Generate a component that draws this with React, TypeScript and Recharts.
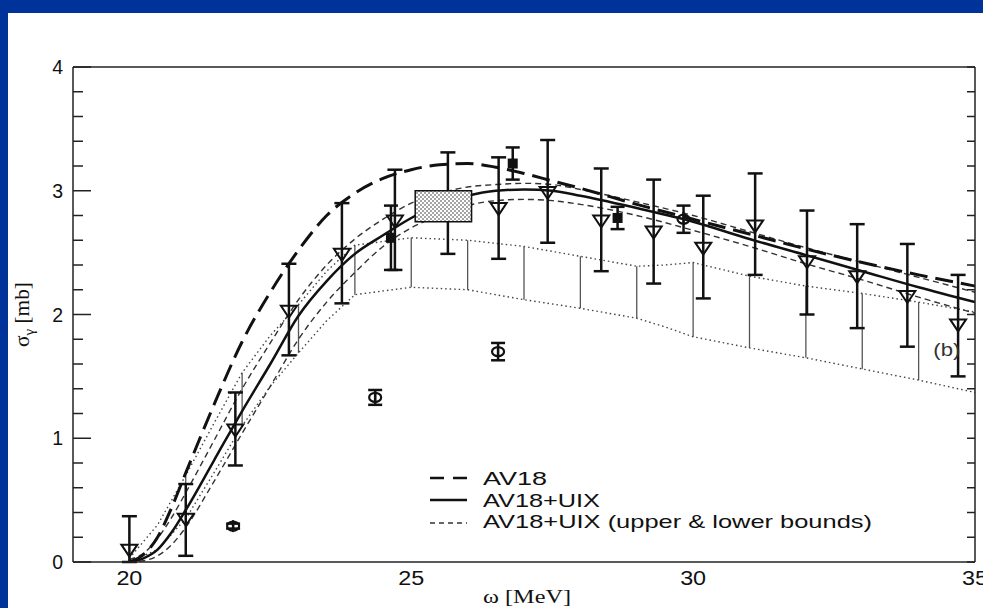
import React from 'react';
import {
  ComposedChart,
  Line,
  Scatter,
  XAxis,
  YAxis,
  ErrorBar,
  ReferenceArea,
  ReferenceDot,
  Legend,
  Label,
} from 'recharts';

// ---------- theory curves ----------
const curveX = [20, 20.25, 20.5, 20.75, 21, 21.5, 22, 22.5, 23, 23.5, 24, 24.5, 25, 25.5, 26, 26.5, 27, 27.5, 28, 29, 30, 31, 32, 33, 34, 35];
const av18 = [0.0, 0.06, 0.2, 0.44, 0.72, 1.27, 1.78, 2.18, 2.52, 2.8, 2.98, 3.1, 3.17, 3.21, 3.22, 3.19, 3.14, 3.08, 3.02, 2.89, 2.77, 2.65, 2.53, 2.42, 2.32, 2.23];
const av18Uix = [0.0, 0.03, 0.1, 0.24, 0.42, 0.82, 1.22, 1.6, 1.99, 2.27, 2.49, 2.64, 2.78, 2.89, 2.96, 3.0, 3.01, 3.0, 2.96, 2.86, 2.75, 2.61, 2.48, 2.35, 2.22, 2.1];
const av18UixUpper = [0.02, 0.07, 0.19, 0.36, 0.56, 0.98, 1.4, 1.77, 2.12, 2.4, 2.61, 2.77, 2.9, 2.98, 3.03, 3.05, 3.06, 3.05, 3.01, 2.91, 2.8, 2.67, 2.54, 2.42, 2.3, 2.18];
const av18UixLower = [0.0, 0.01, 0.05, 0.14, 0.28, 0.65, 1.04, 1.42, 1.8, 2.1, 2.34, 2.55, 2.7, 2.8, 2.88, 2.92, 2.93, 2.92, 2.89, 2.8, 2.68, 2.55, 2.41, 2.28, 2.14, 2.01];

// ---------- hatched band (dotted bounds) ----------
const bandX = [20, 20.5, 21, 21.5, 22, 22.5, 23, 23.5, 24, 25, 26, 27, 28, 29, 29.5, 30, 31, 32, 33, 34, 35];
const bandUpper = [0.03, 0.3, 0.7, 1.12, 1.53, 1.83, 2.08, 2.35, 2.56, 2.62, 2.6, 2.55, 2.47, 2.39, 2.4, 2.42, 2.31, 2.23, 2.17, 2.1, 2.02];
const bandLower = [0.0, 0.1, 0.35, 0.72, 1.1, 1.42, 1.69, 1.95, 2.16, 2.22, 2.2, 2.12, 2.05, 1.97, 1.9, 1.82, 1.73, 1.65, 1.56, 1.47, 1.37];
const hatchX = [21, 22, 23, 24, 25, 26, 27, 28, 29, 30, 31, 32, 33, 34];

// ---------- data: open triangles ----------
const triX = [20.0, 21.0, 21.88, 22.83, 23.77, 24.71, 25.65, 26.55, 27.42, 28.37, 29.3, 30.18, 31.1, 32.02, 32.91, 33.8, 34.7];
const triY = [0.1, 0.35, 1.07, 2.03, 2.49, 2.76, 2.9, 2.86, 2.99, 2.76, 2.67, 2.54, 2.72, 2.43, 2.31, 2.15, 1.92];
const triLo = [0.0, 0.05, 0.78, 1.67, 2.09, 2.36, 2.49, 2.45, 2.58, 2.35, 2.25, 2.13, 2.32, 2.0, 1.89, 1.74, 1.5];
const triHi = [0.37, 0.63, 1.37, 2.41, 2.9, 3.17, 3.31, 3.27, 3.41, 3.18, 3.09, 2.96, 3.14, 2.84, 2.73, 2.57, 2.32];

// ---------- data: filled squares ----------
const sqX = [24.64, 26.8, 28.66];
const sqY = [2.62, 3.22, 2.78];
const sqLo = [2.36, 3.09, 2.69];
const sqHi = [2.88, 3.35, 2.87];

// ---------- data: open circles ----------
const circX = [21.84, 24.36, 26.54, 29.83];
const circY = [0.29, 1.33, 1.7, 2.77];
const circErr = [0.02, 0.06, 0.07, 0.11];

// ---------- shaded box ----------
const boxX = [25.07, 26.07];
const boxY = [2.75, 3.0];

// ---------- ticks ----------
const xMajor = [20, 25, 30, 35];
const xMinor = [19, 21, 22, 23, 24, 26, 27, 28, 29, 31, 32, 33, 34];
const yMajor = [0, 1, 2, 3, 4];
const yMinor = [0.2, 0.4, 0.6, 0.8, 1.2, 1.4, 1.6, 1.8, 2.2, 2.4, 2.6, 2.8, 3.2, 3.4, 3.6, 3.8];
const X_DOMAIN = [19, 35];
const Y_DOMAIN = [0, 4];

const legendLabels = ['AV18', 'AV18+UIX', 'AV18+UIX (upper & lower bounds)'];

// ---------- derived tables ----------
const mk = (xs: number[], ys: number[]) => xs.map((x, i) => ({ x, y: ys[i] }));
const av18Data = mk(curveX, av18);
const uixData = mk(curveX, av18Uix);
const upperData = mk(curveX, av18UixUpper);
const lowerData = mk(curveX, av18UixLower);
const bandUpData = mk(bandX, bandUpper);
const bandLoData = mk(bandX, bandLower);
const hatchData = hatchX.map((x) => {
  const i = bandX.indexOf(x);
  const lo = bandLower[i];
  const hi = bandUpper[i];
  return { x, y: (lo + hi) / 2, err: (hi - lo) / 2 };
});
const triData = triX.map((x, i) => ({ x, y: triY[i], err: [triY[i] - triLo[i], triHi[i] - triY[i]] }));
const sqData = sqX.map((x, i) => ({ x, y: sqY[i], err: [sqY[i] - sqLo[i], sqHi[i] - sqY[i]] }));
const circData = circX.map((x, i) => ({ x, y: circY[i], err: circErr[i] }));

const SANS = '"Liberation Sans", Arial, Helvetica, sans-serif';
const SERIF = '"Liberation Serif", "Times New Roman", serif';
const INK = '#111';
const THIN = 0.01;

const XTick = (props: any) => {
  const { x, y, payload } = props;
  const s = String(payload.value);
  return (
    <text x={x} y={y + 23} textAnchor="middle" fontFamily={SANS} fontSize={19.5} fill={INK}
      textLength={s.length * 13} lengthAdjust="spacingAndGlyphs">{s}</text>
  );
};

const YTick = (props: any) => {
  const { x, y, payload } = props;
  const s = String(payload.value);
  return (
    <text x={x - 10} y={y + 7} textAnchor="end" fontFamily={SANS} fontSize={19.5} fill={INK}>{s}</text>
  );
};

const NoTick = () => <g />;

const Triangle = (p: any) => {
  const { cx, cy } = p;
  if (cx == null || cy == null) return null;
  return <path d={`M${cx - 8},${cy - 5} L${cx + 8},${cy - 5} L${cx},${cy + 7} Z`} fill="none" stroke={INK} strokeWidth={2} />;
};
const Square = (p: any) => {
  const { cx, cy } = p;
  if (cx == null || cy == null) return null;
  return <rect x={cx - 5} y={cy - 5} width={10} height={10} fill={INK} />;
};
const Phi = (p: any) => {
  const { cx, cy } = p;
  if (cx == null || cy == null) return null;
  return (
    <g>
      <ellipse cx={cx} cy={cy} rx={6} ry={4.5} fill="none" stroke={INK} strokeWidth={2.2} />
      <line x1={cx} x2={cx} y1={cy - 6} y2={cy + 6} stroke={INK} strokeWidth={2} />
    </g>
  );
};
const Nothing = () => <g />;

const LegendBox = () => (
  <svg width={470} height={80} style={{ display: 'block', overflow: 'visible' }}>
    <line x1={10} x2={47} y1={16} y2={16} stroke={INK} strokeWidth={2.5} strokeDasharray="14 9" />
    <line x1={10} x2={47} y1={38} y2={38} stroke={INK} strokeWidth={2.5} />
    <line x1={10} x2={47} y1={61} y2={61} stroke="#333" strokeWidth={1.3} strokeDasharray="5 4" />
    <text x={63} y={23} fontFamily={SANS} fontSize={19} fill={INK} textLength={64} lengthAdjust="spacingAndGlyphs">{legendLabels[0]}</text>
    <text x={63} y={45} fontFamily={SANS} fontSize={19} fill={INK} textLength={117} lengthAdjust="spacingAndGlyphs">{legendLabels[1]}</text>
    <text x={63} y={66} fontFamily={SANS} fontSize={19} fill={INK} textLength={389} lengthAdjust="spacingAndGlyphs">{legendLabels[2]}</text>
  </svg>
);

const XLabel = (props: any) => {
  const vb = props.viewBox || {};
  const cx = vb.x + vb.width / 2 + 3;
  return (
    <text x={cx} y={vb.y + 41} textAnchor="middle" fontFamily={SERIF} fontSize={18} fill={INK}
      textLength={88} lengthAdjust="spacingAndGlyphs">ω [MeV]</text>
  );
};

const YLabel = (props: any) => {
  const vb = props.viewBox || {};
  const cy = vb.y + vb.height / 2;
  const bx = 29;
  return (
    <text x={bx} y={cy} transform={`rotate(-90 ${bx} ${cy})`} textAnchor="middle" fontFamily={SERIF} fontSize={20} fill={INK}
      textLength={65} lengthAdjust="spacingAndGlyphs">
      σ<tspan fontSize={14} dy={5}>γ</tspan><tspan dy={-5}> [mb]</tspan>
    </text>
  );
};

const BLabel = (props: any) => {
  const vb = props.viewBox || {};
  const cx = vb.x + (vb.width || 0) / 2;
  const cy = vb.y + (vb.height || 0) / 2;
  return (
    <text x={cx} y={cy + 7} textAnchor="middle" fontFamily={SANS} fontSize={18} fill="#333"
      textLength={27} lengthAdjust="spacingAndGlyphs">(b)</text>
  );
};

const axisStroke = { stroke: '#222', strokeWidth: 1.5 };
const tickStroke = { stroke: '#222', strokeWidth: 1.5 };

export default function App() {
  return (
    <div style={{ position: 'fixed', left: 0, top: 0, width: 983, height: 608, background: '#003399', overflow: 'hidden' }}>
      <div style={{ position: 'absolute', left: 8, top: 13, width: 975, height: 595, background: '#ffffff' }} />
      <div style={{ position: 'absolute', left: 0, top: 0 }}>
        <ComposedChart width={983} height={608} margin={{ top: 67, right: 8, bottom: 0, left: 0 }}>
          <defs>
            <pattern id="dots" width="4" height="4" patternUnits="userSpaceOnUse">
              <rect width="4" height="4" fill="#ffffff" />
              <circle cx="1" cy="1" r="0.8" fill="#333" />
              <circle cx="3" cy="3" r="0.8" fill="#333" />
            </pattern>
          </defs>

          <XAxis xAxisId="main" dataKey="x" type="number" domain={X_DOMAIN} allowDataOverflow ticks={xMajor} interval={0}
            height={46} tickSize={0} tickMargin={0} tickLine={false} axisLine={axisStroke} tick={<XTick />}>
            <Label content={<XLabel />} />
          </XAxis>
          <XAxis xAxisId="bMaj" type="number" domain={X_DOMAIN} allowDataOverflow ticks={xMajor} interval={0}
            mirror height={THIN} tickSize={14} tick={<NoTick />} axisLine={false} tickLine={tickStroke} />
          <XAxis xAxisId="bMin" type="number" domain={X_DOMAIN} allowDataOverflow ticks={xMinor} interval={0}
            mirror height={THIN} tickSize={7} tick={<NoTick />} axisLine={false} tickLine={tickStroke} />
          <XAxis xAxisId="tMaj" orientation="top" type="number" domain={X_DOMAIN} allowDataOverflow ticks={xMajor} interval={0}
            mirror height={THIN} tickSize={14} tick={<NoTick />} axisLine={axisStroke} tickLine={tickStroke} />
          <XAxis xAxisId="tMin" orientation="top" type="number" domain={X_DOMAIN} allowDataOverflow ticks={xMinor} interval={0}
            mirror height={THIN} tickSize={7} tick={<NoTick />} axisLine={false} tickLine={tickStroke} />

          <YAxis yAxisId="main" type="number" domain={Y_DOMAIN} allowDataOverflow ticks={yMajor} interval={0}
            width={73} tickSize={0} tickMargin={0} tickLine={false} axisLine={axisStroke} tick={<YTick />}>
            <Label content={<YLabel />} />
          </YAxis>
          <YAxis yAxisId="lMaj" type="number" domain={Y_DOMAIN} allowDataOverflow ticks={yMajor} interval={0}
            mirror width={THIN} tickSize={18} tick={<NoTick />} axisLine={false} tickLine={tickStroke} />
          <YAxis yAxisId="lMin" type="number" domain={Y_DOMAIN} allowDataOverflow ticks={yMinor} interval={0}
            mirror width={THIN} tickSize={10} tick={<NoTick />} axisLine={false} tickLine={tickStroke} />
          <YAxis yAxisId="rAll" orientation="right" type="number" domain={Y_DOMAIN} allowDataOverflow ticks={[...yMajor, ...yMinor]} interval={0}
            mirror width={THIN} tickSize={8} tick={<NoTick />} axisLine={axisStroke} tickLine={tickStroke} />

          {/* hatched band */}
          <Scatter xAxisId="main" yAxisId="main" data={hatchData} dataKey="y" shape={<Nothing />} isAnimationActive={false}>
            <ErrorBar dataKey="err" direction="y" width={0} stroke="#555" strokeWidth={1.3} isAnimationActive={false} />
          </Scatter>
          <Line xAxisId="main" yAxisId="main" data={bandUpData} dataKey="y" type="linear" dot={false} stroke="#444" strokeWidth={1.4} strokeDasharray="1.5 3" isAnimationActive={false} />
          <Line xAxisId="main" yAxisId="main" data={bandLoData} dataKey="y" type="linear" dot={false} stroke="#444" strokeWidth={1.4} strokeDasharray="1.5 3" isAnimationActive={false} />

          {/* theory */}
          <Line xAxisId="main" yAxisId="main" data={upperData} dataKey="y" type="monotone" dot={false} stroke="#333" strokeWidth={1.4} strokeDasharray="6 4" isAnimationActive={false} />
          <Line xAxisId="main" yAxisId="main" data={lowerData} dataKey="y" type="monotone" dot={false} stroke="#333" strokeWidth={1.4} strokeDasharray="6 4" isAnimationActive={false} />
          <Line xAxisId="main" yAxisId="main" data={uixData} dataKey="y" type="monotone" dot={false} stroke={INK} strokeWidth={2.5} isAnimationActive={false} />
          <Line xAxisId="main" yAxisId="main" data={av18Data} dataKey="y" type="monotone" dot={false} stroke={INK} strokeWidth={3} strokeDasharray="18 8" isAnimationActive={false} />

          {/* data */}
          <Scatter xAxisId="main" yAxisId="main" data={triData} dataKey="y" shape={<Triangle />} isAnimationActive={false}>
            <ErrorBar dataKey="err" direction="y" width={7.5} stroke={INK} strokeWidth={2.5} isAnimationActive={false} />
          </Scatter>

          <ReferenceArea xAxisId="main" yAxisId="main" x1={boxX[0]} x2={boxX[1]} y1={boxY[0]} y2={boxY[1]}
            fill="url(#dots)" fillOpacity={1} stroke={INK} strokeWidth={1.5} strokeOpacity={1} zIndex={700} />

          <Scatter xAxisId="main" yAxisId="main" data={sqData} dataKey="y" shape={<Square />} isAnimationActive={false}>
            <ErrorBar dataKey="err" direction="y" width={7} stroke={INK} strokeWidth={2.5} isAnimationActive={false} />
          </Scatter>
          <Scatter xAxisId="main" yAxisId="main" data={circData} dataKey="y" shape={<Phi />} isAnimationActive={false}>
            <ErrorBar dataKey="err" direction="y" width={7} stroke={INK} strokeWidth={2.5} isAnimationActive={false} />
          </Scatter>

          <ReferenceDot xAxisId="main" yAxisId="main" x={34.5} y={1.72} r={0} fill="none" stroke="none" label={<BLabel />} />

          <Legend layout="horizontal" verticalAlign="middle" align="center" content={<LegendBox />}
            wrapperStyle={{ position: 'absolute', left: 420, top: 462, width: 470, height: 80 }} />
        </ComposedChart>
      </div>
    </div>
  );
}
